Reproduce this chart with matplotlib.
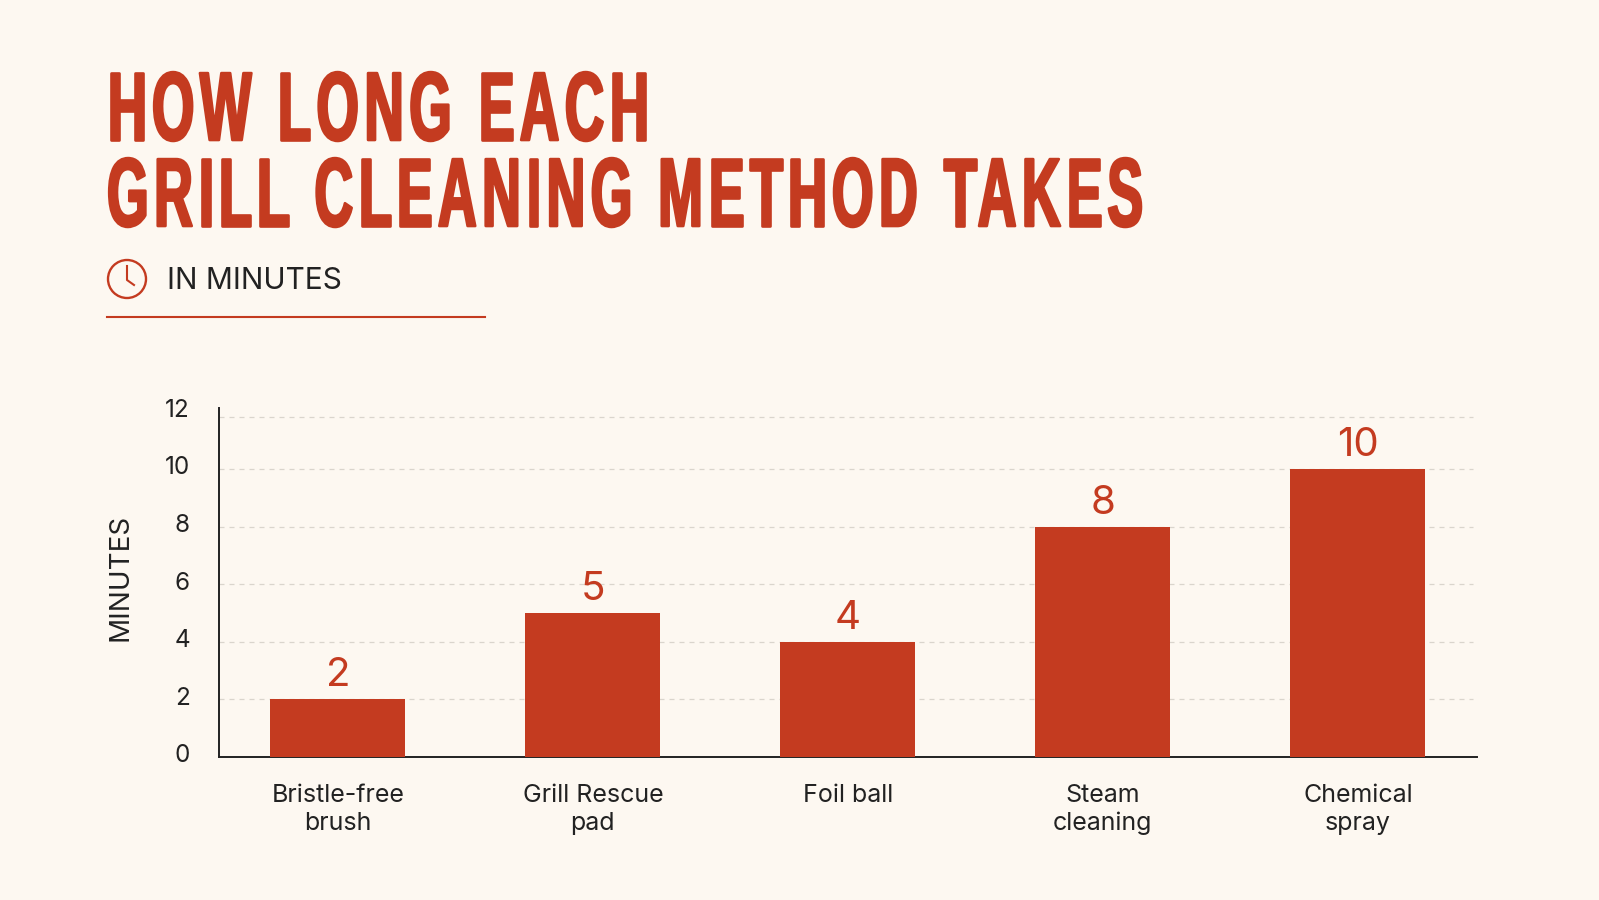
import matplotlib
matplotlib.use("Agg")
import matplotlib.pyplot as plt
from matplotlib.patches import Circle
from matplotlib.patheffects import AbstractPathEffect
from matplotlib.text import Text
from matplotlib.transforms import Affine2D, Bbox, IdentityTransform, ScaledTranslation

categories = ["Bristle-free\nbrush", "Grill Rescue\npad", "Foil ball", "Steam\ncleaning", "Chemical\nspray"]
minutes = [2, 5, 4, 8, 10]
y_ticks = [0, 2, 4, 6, 8, 10, 12]
guide_levels = [2, 4, 6, 8, 10, 11.8]

RED = "#C43B20"
BG = "#FDF8F1"
DARK = "#222222"

plt.rcParams["font.family"] = ["Inter", "DejaVu Sans"]


class Squeeze(AbstractPathEffect):
    # rescales a glyph around (x0, y0) and thickens it a little
    def __init__(self, sx, sy, x0, y0, stroke):
        super().__init__()
        self.sx, self.sy, self.x0, self.y0, self.stroke = sx, sy, x0, y0, stroke

    def draw_path(self, renderer, gc, tpath, affine, rgbFace=None):
        squeeze = Affine2D().translate(-self.x0, -self.y0).scale(self.sx, self.sy).translate(self.x0, self.y0)
        gc0 = renderer.new_gc()
        gc0.copy_properties(gc)
        gc0.set_foreground(rgbFace)
        gc0.set_linewidth(self.stroke)
        renderer.draw_path(gc0, tpath, affine + squeeze, rgbFace)
        gc0.restore()


class NarrowText(Text):
    # condensed, letter-spaced text of a fixed pixel width, placed in display pixels
    tracking = 5.5
    stroke = 1.9
    stretch_y = 1.207

    def __init__(self, *args, width_px=100, **kwargs):
        super().__init__(*args, **kwargs)
        self.width_px = width_px
        self.set_transform(IdentityTransform())

    def get_window_extent(self, renderer=None, dpi=None):
        bb = super().get_window_extent(renderer, dpi)
        return Bbox.from_extents(bb.x0, bb.y0, bb.x0 + self.width_px, bb.y1)

    def draw(self, renderer):
        full = self.get_text()
        x0, y0 = self.get_position()

        def measure(s):
            return renderer.get_text_width_height_descent(s, self.get_fontproperties(), False)[0]

        sx = (self.width_px - self.tracking * (len(full) - 1)) / measure(full)
        for i, ch in enumerate(full):
            if ch == " ":
                continue
            # left edge of this letter, keeping the font's own advances
            px = x0 + sx * (measure(full[:i + 1]) - measure(ch)) + self.tracking * i
            self.set_text(ch)
            self.set_x(px)
            self.set_path_effects([Squeeze(sx, self.stretch_y, px, y0, self.stroke)])
            super().draw(renderer)
        self.set_text(full)
        self.set_x(x0)


fig = plt.figure(figsize=(15.99, 9), dpi=100, facecolor=BG)

# axes box in pixels: left 219, right 1477, baseline 757, top 408
ax = fig.add_axes([219 / 1599, 1 - 757 / 900, (1477 - 219) / 1599, (757 - 408) / 900], facecolor="none")
ax.set_xlim(-0.466, 4.467)
ax.set_ylim(0, 349 / 28.8)

ax.bar(range(len(minutes)), minutes, width=0.529, color=RED, zorder=3)
for i, m in enumerate(minutes):
    ax.annotate(str(m), (i, m), xytext=(0, 9.4), textcoords="offset points", ha="center", va="baseline",
                color=RED, fontsize=29, zorder=4)

# dashed guides stop a little short of the right end of the baseline
ax.hlines(guide_levels, -0.466, 4.45, color="#DAD5CD", lw=0.9, linestyles=(0, (4, 4)), zorder=1)

ax.set_yticks(y_ticks)
ax.set_yticklabels([str(t) for t in y_ticks], fontsize=17.5, color=DARK)
ax.set_xticks(range(len(categories)))
ax.set_xticklabels(categories, fontsize=18, color=DARK, linespacing=1.25)
ax.tick_params(axis="y", length=0, pad=21)
ax.tick_params(axis="x", length=0, pad=19.5)

# y labels sit slightly above their guides
nudge = ScaledTranslation(0, 3.5 / 100, fig.dpi_scale_trans)
for lab in ax.get_yticklabels():
    lab.set_transform(lab.get_transform() + nudge)

for side in ["top", "right"]:
    ax.spines[side].set_visible(False)
for side in ["left", "bottom"]:
    ax.spines[side].set_color(DARK)
    ax.spines[side].set_linewidth(1.4)

# overlay in pixel coordinates for the heading block
top = fig.add_axes([0, 0, 1, 1], facecolor="none")
top.set_xlim(0, 1599)
top.set_ylim(900, 0)
top.axis("off")

title_font = {"family": "Liberation Sans", "weight": "bold", "fontsize": 58, "color": RED,
              "ha": "left", "va": "baseline"}
top.add_artist(NarrowText(107, 900 - 140, "HOW LONG EACH", width_px=542, **title_font))
top.add_artist(NarrowText(107, 900 - 226, "GRILL CLEANING METHOD TAKES", width_px=1036, **title_font))

top.add_patch(Circle((127, 279), 19, fill=False, ec=RED, lw=1.7))
top.plot([127, 127, 134], [266, 280, 285], color=RED, lw=1.5)
top.text(167, 281, "IN MINUTES", ha="left", va="center", fontsize=21.5, color=DARK)
top.plot([107, 485], [316.5, 316.5], color=RED, lw=1.5)

top.text(121, 577, "MINUTES", rotation=90, ha="center", va="center", fontsize=20, color=DARK)

fig.savefig("out.png", dpi=100, facecolor=BG)
